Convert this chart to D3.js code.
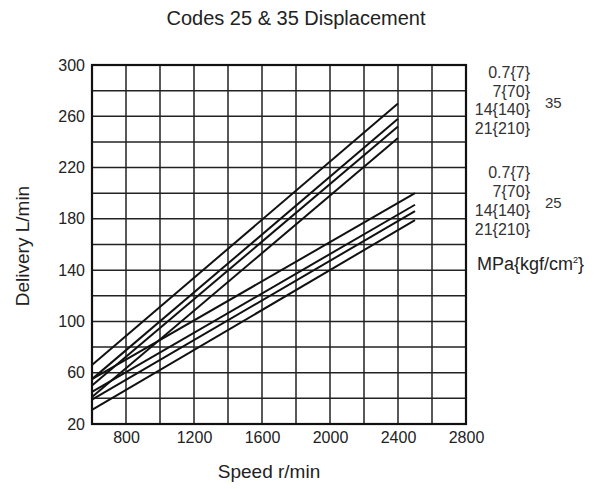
<!DOCTYPE html>
<html><head><meta charset="utf-8">
<script src="https://cdn.jsdelivr.net/npm/d3@7"></script>
<style>body{margin:0;background:#fff}svg{display:block}text{font-family:"Liberation Sans",Arial,sans-serif;fill:#222}</style>
</head><body>
<script>
const speedRange = [600, 2800];
const deliveryRange = [20, 300];
const xTicks = [800, 1200, 1600, 2000, 2400, 2800];
const yTicks = [20, 60, 100, 140, 180, 220, 260, 300];
const pressures = ["0.7{7}", "7{70}", "14{140}", "21{210}"];
const codes = ["35", "25"];
// code 35 lines: delivery at start and end speed, one per pressure
const code35Speeds = [600, 2400];
const code35Start = [66, 55, 50, 41];
const code35End = [270, 258, 252, 243];
// code 25 lines
const code25Speeds = [600, 2500];
const code25Start = [55, 45, 39, 31];
const code25End = [200, 191, 186, 179];

const W = 597, H = 489;
const m = {l: 92, t: 65, r: 466, b: 424};
const svg = d3.select("body").append("svg").attr("width", W).attr("height", H);
const x = d3.scaleLinear().domain(speedRange).range([m.l, m.r]);
const y = d3.scaleLinear().domain(deliveryRange).range([m.b, m.t]);

// grid
const g = svg.append("g");
g.selectAll(".vg").data(d3.range(600, 2801, 200)).join("line")
  .attr("x1", d => x(d)).attr("x2", d => x(d)).attr("y1", m.t).attr("y2", m.b)
  .attr("stroke", "#222").attr("stroke-width", 1.5);
g.selectAll(".hg").data(d3.range(20, 301, 20)).join("line")
  .attr("y1", d => y(d)).attr("y2", d => y(d)).attr("x1", m.l).attr("x2", m.r)
  .attr("stroke", "#222").attr("stroke-width", 1.5);
svg.append("rect").attr("x", m.l).attr("y", m.t).attr("width", m.r - m.l).attr("height", m.b - m.t)
  .attr("fill", "none").attr("stroke", "#111").attr("stroke-width", 2.2);

// axes labels
const xa = svg.append("g").attr("transform", `translate(0,${m.b})`)
  .call(d3.axisBottom(x).tickValues(xTicks).tickSize(0).tickPadding(8).tickFormat(d3.format("d")));
xa.select(".domain").remove();
xa.selectAll("text").attr("font-size", 16).style("fill", "#222");
const ya = svg.append("g").attr("transform", `translate(${m.l},0)`)
  .call(d3.axisLeft(y).tickValues(yTicks).tickSize(0).tickPadding(7).tickFormat(d3.format("d")));
ya.select(".domain").remove();
ya.selectAll("text").attr("font-size", 16).style("fill", "#222");

// lines
const line = d3.line().x(d => x(d[0])).y(d => y(d[1]));
const lines = [];
code35Start.forEach((s, i) => lines.push([[code35Speeds[0], s], [code35Speeds[1], code35End[i]]]));
code25Start.forEach((s, i) => lines.push([[code25Speeds[0], s], [code25Speeds[1], code25End[i]]]));
svg.selectAll(".ln").data(lines).join("path").attr("d", line)
  .attr("fill", "none").attr("stroke", "#111").attr("stroke-width", 2);

// titles
svg.append("text").attr("x", 296).attr("y", 25).attr("text-anchor", "middle").attr("font-size", 20).text("Codes 25 & 35 Displacement");
svg.append("text").attr("x", 269).attr("y", 478).attr("text-anchor", "middle").attr("font-size", 19).text("Speed r/min");
svg.append("text").attr("transform", "translate(29,246) rotate(-90)").attr("text-anchor", "middle").attr("font-size", 19).text("Delivery L/min");

// right legend
const legY = [[78, 97, 115, 134], [178, 197, 216, 235]];
codes.forEach((c, gi) => {
  pressures.forEach((p, i) => {
    svg.append("text").attr("x", 530).attr("y", legY[gi][i]).attr("text-anchor", "end").attr("font-size", 16).style("fill", "#333").text(p);
  });
  svg.append("text").attr("x", 545).attr("y", legY[gi][1] + 11).attr("font-size", 15).style("fill", "#333").text(c);
});
const mp = svg.append("text").attr("x", 477).attr("y", 270).attr("font-size", 18);
mp.append("tspan").text("MPa{kgf/cm");
mp.append("tspan").attr("font-size", 9).attr("dy", -7).text("2");
mp.append("tspan").attr("dy", 7).text("}");
</script>
</body></html>
